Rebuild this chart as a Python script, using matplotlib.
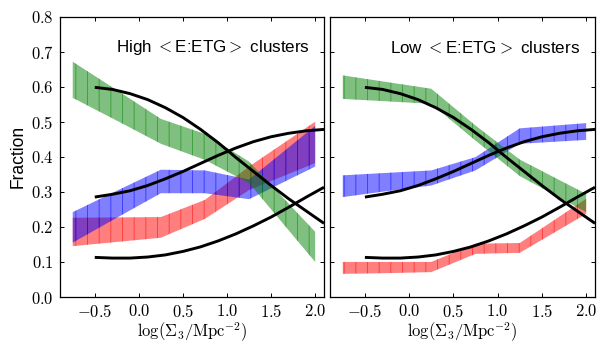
import numpy as np
import matplotlib
matplotlib.use('Agg')
import matplotlib.pyplot as plt
from matplotlib.ticker import FuncFormatter, MultipleLocator

plt.rcParams['mathtext.fontset'] = 'cm'
plt.rcParams['font.family'] = ['Liberation Sans', 'DejaVu Sans']
plt.rcParams['hatch.linewidth'] = 1.0

# bin centres of the observed fractions
bins = [-0.75, -0.25, 0.25, 0.75, 1.25, 2.0]

# high <E:ETG> clusters: lower / upper edges of each band
hi_green_lo = [0.568, 0.503, 0.437, 0.391, 0.325, 0.100]
hi_green_hi = [0.671, 0.590, 0.508, 0.465, 0.386, 0.186]
hi_blue_lo = [0.155, 0.226, 0.296, 0.296, 0.279, 0.372]
hi_blue_hi = [0.242, 0.303, 0.363, 0.361, 0.335, 0.488]
hi_red_lo = [0.145, 0.157, 0.169, 0.223, 0.305, 0.382]
hi_red_hi = [0.226, 0.227, 0.228, 0.277, 0.372, 0.500]

# low <E:ETG> clusters
lo_green_lo = [0.565, 0.558, 0.551, 0.446, 0.345, 0.242]
lo_green_hi = [0.632, 0.613, 0.594, 0.489, 0.392, 0.294]
lo_blue_lo = [0.285, 0.302, 0.318, 0.361, 0.437, 0.448]
lo_blue_hi = [0.347, 0.354, 0.361, 0.399, 0.481, 0.496]
lo_red_lo = [0.066, 0.068, 0.071, 0.123, 0.126, 0.237]
lo_red_hi = [0.100, 0.100, 0.100, 0.152, 0.154, 0.280]

# model curves (same in both panels)
xm = [-0.5, -0.3, -0.1, 0.1, 0.3, 0.5, 0.7, 0.9, 1.1, 1.3, 1.5, 1.7, 1.9, 2.1]
m_dec = [0.598, 0.592, 0.580, 0.563, 0.540, 0.512, 0.478, 0.440, 0.398, 0.358,
         0.318, 0.280, 0.245, 0.210]
m_mid = [0.285, 0.293, 0.303, 0.318, 0.337, 0.358, 0.381, 0.404, 0.425, 0.443,
         0.457, 0.467, 0.474, 0.478]
m_low = [0.113, 0.111, 0.111, 0.114, 0.120, 0.130, 0.143, 0.160, 0.180, 0.203,
         0.228, 0.256, 0.285, 0.313]

panels = [
    ('High ${<}$E:ETG${>}$ clusters',
     [(hi_red_lo, hi_red_hi, 'r'), (hi_blue_lo, hi_blue_hi, 'b'), (hi_green_lo, hi_green_hi, 'g')]),
    ('Low ${<}$E:ETG${>}$ clusters',
     [(lo_red_lo, lo_red_hi, 'r'), (lo_blue_lo, lo_blue_hi, 'b'), (lo_green_lo, lo_green_hi, 'g')]),
]

dpi = 70
fig = plt.figure(figsize=(598 / dpi, 344 / dpi), dpi=dpi)
ax1 = fig.add_axes([59.5 / 598, 47 / 344, 264.5 / 598, 280.5 / 344])
ax2 = fig.add_axes([329.5 / 598, 47 / 344, 265.5 / 598, 280.5 / 344])

fmt = FuncFormatter(lambda v, p: '$%.1f$' % v)

for ax, (title, bands) in zip([ax1, ax2], panels):
    for lo, hi, c in bands:
        ax.fill_between(bins, lo, hi, facecolor=c, edgecolor=c, alpha=0.5,
                        hatch='|', linewidth=0)
    for y in (m_dec, m_mid, m_low):
        ax.plot(xm, y, color='k', lw=3, solid_capstyle='butt')
    ax.set_xlim(-0.9, 2.1)
    ax.set_ylim(0, 0.8)
    ax.xaxis.set_major_locator(MultipleLocator(0.5))
    ax.yaxis.set_major_locator(MultipleLocator(0.1))
    ax.xaxis.set_major_formatter(fmt)
    ax.yaxis.set_major_formatter(fmt)
    ax.tick_params(direction='in', top=True, right=True, length=4, width=1,
                   labelsize=17, pad=6)
    for s in ax.spines.values():
        s.set_linewidth(1.3)
    ax.set_xlabel(r'$\log(\Sigma_3/\mathrm{Mpc}^{-2})$', fontsize=17, labelpad=1)
    ax.text(0.945, 0.89, title, transform=ax.transAxes, ha='right', va='center',
            fontsize=17.5)

ax1.set_ylabel('Fraction', fontsize=18)
ax2.set_yticklabels([])

fig.savefig('out.png', dpi=dpi)
